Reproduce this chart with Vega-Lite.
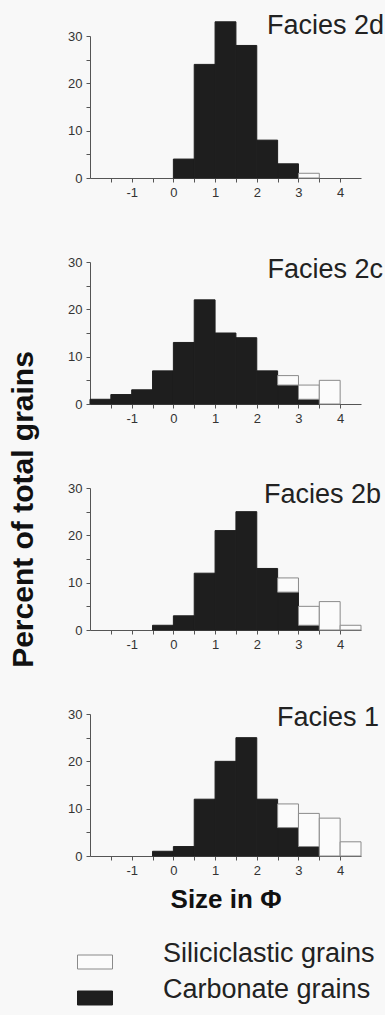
{
  "$schema": "https://vega.github.io/schema/vega-lite/v6.json",
  "background": "#f8f8f8",
  "padding": {"left": 8, "top": 12, "right": 2, "bottom": 8},
  "bounds": "flush",
  "spacing": 84,
  "config": {
    "font": "Liberation Sans",
    "view": {"stroke": null},
    "axis": {"grid": false, "domainColor": "#555", "tickColor": "#555", "labelColor": "#333", "labelFontSize": 13, "labelFont": "Liberation Sans", "tickSize": 4, "labelPadding": 4},
    "legend": {"orient": "none", "legendX": -13, "legendY": 908, "symbolType": "M-1,-0.4H1V0.4H-1Z", "symbolSize": 1225, "labelFontSize": 27, "labelFont": "Liberation Sans", "labelOffset": 50, "labelBaseline": "alphabetic", "rowPadding": 5, "padding": 0, "symbolStrokeWidth": 1, "labelColor": "#222", "labelLimit": 400}
  },
  "datasets": {
    "grains": [
      {"facies": "Facies 2d", "bin_start": 0, "bin_end": 0.5, "type": "Carbonate grains", "pct": 4},
      {"facies": "Facies 2d", "bin_start": 0.5, "bin_end": 1, "type": "Carbonate grains", "pct": 24},
      {"facies": "Facies 2d", "bin_start": 1, "bin_end": 1.5, "type": "Carbonate grains", "pct": 33},
      {"facies": "Facies 2d", "bin_start": 1.5, "bin_end": 2, "type": "Carbonate grains", "pct": 28},
      {"facies": "Facies 2d", "bin_start": 2, "bin_end": 2.5, "type": "Carbonate grains", "pct": 8},
      {"facies": "Facies 2d", "bin_start": 2.5, "bin_end": 3, "type": "Carbonate grains", "pct": 3},
      {"facies": "Facies 2d", "bin_start": 3, "bin_end": 3.5, "type": "Siliciclastic grains", "pct": 1},

      {"facies": "Facies 2c", "bin_start": -2, "bin_end": -1.5, "type": "Carbonate grains", "pct": 1},
      {"facies": "Facies 2c", "bin_start": -1.5, "bin_end": -1, "type": "Carbonate grains", "pct": 2},
      {"facies": "Facies 2c", "bin_start": -1, "bin_end": -0.5, "type": "Carbonate grains", "pct": 3},
      {"facies": "Facies 2c", "bin_start": -0.5, "bin_end": 0, "type": "Carbonate grains", "pct": 7},
      {"facies": "Facies 2c", "bin_start": 0, "bin_end": 0.5, "type": "Carbonate grains", "pct": 13},
      {"facies": "Facies 2c", "bin_start": 0.5, "bin_end": 1, "type": "Carbonate grains", "pct": 22},
      {"facies": "Facies 2c", "bin_start": 1, "bin_end": 1.5, "type": "Carbonate grains", "pct": 15},
      {"facies": "Facies 2c", "bin_start": 1.5, "bin_end": 2, "type": "Carbonate grains", "pct": 14},
      {"facies": "Facies 2c", "bin_start": 2, "bin_end": 2.5, "type": "Carbonate grains", "pct": 7},
      {"facies": "Facies 2c", "bin_start": 2.5, "bin_end": 3, "type": "Carbonate grains", "pct": 4},
      {"facies": "Facies 2c", "bin_start": 2.5, "bin_end": 3, "type": "Siliciclastic grains", "pct": 2},
      {"facies": "Facies 2c", "bin_start": 3, "bin_end": 3.5, "type": "Carbonate grains", "pct": 1},
      {"facies": "Facies 2c", "bin_start": 3, "bin_end": 3.5, "type": "Siliciclastic grains", "pct": 3},
      {"facies": "Facies 2c", "bin_start": 3.5, "bin_end": 4, "type": "Siliciclastic grains", "pct": 5},

      {"facies": "Facies 2b", "bin_start": -0.5, "bin_end": 0, "type": "Carbonate grains", "pct": 1},
      {"facies": "Facies 2b", "bin_start": 0, "bin_end": 0.5, "type": "Carbonate grains", "pct": 3},
      {"facies": "Facies 2b", "bin_start": 0.5, "bin_end": 1, "type": "Carbonate grains", "pct": 12},
      {"facies": "Facies 2b", "bin_start": 1, "bin_end": 1.5, "type": "Carbonate grains", "pct": 21},
      {"facies": "Facies 2b", "bin_start": 1.5, "bin_end": 2, "type": "Carbonate grains", "pct": 25},
      {"facies": "Facies 2b", "bin_start": 2, "bin_end": 2.5, "type": "Carbonate grains", "pct": 13},
      {"facies": "Facies 2b", "bin_start": 2.5, "bin_end": 3, "type": "Carbonate grains", "pct": 8},
      {"facies": "Facies 2b", "bin_start": 2.5, "bin_end": 3, "type": "Siliciclastic grains", "pct": 3},
      {"facies": "Facies 2b", "bin_start": 3, "bin_end": 3.5, "type": "Carbonate grains", "pct": 1},
      {"facies": "Facies 2b", "bin_start": 3, "bin_end": 3.5, "type": "Siliciclastic grains", "pct": 4},
      {"facies": "Facies 2b", "bin_start": 3.5, "bin_end": 4, "type": "Siliciclastic grains", "pct": 6},
      {"facies": "Facies 2b", "bin_start": 4, "bin_end": 4.5, "type": "Siliciclastic grains", "pct": 1},

      {"facies": "Facies 1", "bin_start": -0.5, "bin_end": 0, "type": "Carbonate grains", "pct": 1},
      {"facies": "Facies 1", "bin_start": 0, "bin_end": 0.5, "type": "Carbonate grains", "pct": 2},
      {"facies": "Facies 1", "bin_start": 0.5, "bin_end": 1, "type": "Carbonate grains", "pct": 12},
      {"facies": "Facies 1", "bin_start": 1, "bin_end": 1.5, "type": "Carbonate grains", "pct": 20},
      {"facies": "Facies 1", "bin_start": 1.5, "bin_end": 2, "type": "Carbonate grains", "pct": 25},
      {"facies": "Facies 1", "bin_start": 2, "bin_end": 2.5, "type": "Carbonate grains", "pct": 12},
      {"facies": "Facies 1", "bin_start": 2.5, "bin_end": 3, "type": "Carbonate grains", "pct": 6},
      {"facies": "Facies 1", "bin_start": 2.5, "bin_end": 3, "type": "Siliciclastic grains", "pct": 5},
      {"facies": "Facies 1", "bin_start": 3, "bin_end": 3.5, "type": "Carbonate grains", "pct": 2},
      {"facies": "Facies 1", "bin_start": 3, "bin_end": 3.5, "type": "Siliciclastic grains", "pct": 7},
      {"facies": "Facies 1", "bin_start": 3.5, "bin_end": 4, "type": "Siliciclastic grains", "pct": 8},
      {"facies": "Facies 1", "bin_start": 4, "bin_end": 4.5, "type": "Siliciclastic grains", "pct": 3}
    ]
  },
  "vconcat": [
    {
      "width": 271, "height": 142,
      "layer": [
        {
          "data": {"name": "grains"},
          "transform": [
            {"filter": "datum.facies === 'Facies 2d'"},
            {"stack": "pct", "groupby": ["bin_start"], "sort": [{"field": "type", "order": "ascending"}], "as": ["y0", "y1"]}
          ],
          "mark": {"type": "bar", "strokeWidth": 1},
          "encoding": {
            "x": {"field": "bin_start", "type": "quantitative", "scale": {"domain": [-2, 4.5], "nice": false, "zero": false},
                  "axis": {"title": null, "values": [-1.5, -1, -0.5, 0, 0.5, 1, 1.5, 2, 2.5, 3, 3.5, 4], "labelExpr": "datum.value % 1 === 0 ? '' + datum.value : ''"}},
            "x2": {"field": "bin_end"},
            "y": {"field": "y0", "type": "quantitative", "scale": {"domain": [0, 30]},
                  "axis": {"title": null, "values": [0, 5, 10, 15, 20, 25, 30], "labelExpr": "datum.value % 10 === 0 ? datum.label : ''"}},
            "y2": {"field": "y1"},
            "fill": {"field": "type", "type": "nominal", "scale": {"domain": ["Siliciclastic grains", "Carbonate grains"], "range": ["#fbfbfb", "#1e1e1e"]}, "legend": {"title": null}},
            "stroke": {"field": "type", "type": "nominal", "scale": {"domain": ["Siliciclastic grains", "Carbonate grains"], "range": ["#8a8a8a", "#1e1e1e"]}, "legend": {"title": null}}
          }
        },
        {
          "data": {"values": [{"facies": "Facies 2d"}]},
          "mark": {"type": "text", "dx": 23, "dy": -2, "align": "right", "baseline": "alphabetic", "fontSize": 27, "font": "Liberation Sans", "color": "#222"},
          "encoding": {
            "x": {"datum": 4.5, "type": "quantitative",
                  "axis": {"title": null, "values": [-1.5, -1, -0.5, 0, 0.5, 1, 1.5, 2, 2.5, 3, 3.5, 4], "labelExpr": "datum.value % 1 === 0 ? '' + datum.value : ''"}},
            "y": {"datum": 30, "type": "quantitative",
                  "axis": {"title": null, "values": [0, 5, 10, 15, 20, 25, 30], "labelExpr": "datum.value % 10 === 0 ? datum.label : ''"}},
            "text": {"field": "facies"}
          }
        }
      ]
    },
    {
      "width": 271, "height": 142,
      "layer": [
        {
          "data": {"name": "grains"},
          "transform": [
            {"filter": "datum.facies === 'Facies 2c'"},
            {"stack": "pct", "groupby": ["bin_start"], "sort": [{"field": "type", "order": "ascending"}], "as": ["y0", "y1"]}
          ],
          "mark": {"type": "bar", "strokeWidth": 1},
          "encoding": {
            "x": {"field": "bin_start", "type": "quantitative", "scale": {"domain": [-2, 4.5], "nice": false, "zero": false},
                  "axis": {"title": null, "values": [-1.5, -1, -0.5, 0, 0.5, 1, 1.5, 2, 2.5, 3, 3.5, 4], "labelExpr": "datum.value % 1 === 0 ? '' + datum.value : ''"}},
            "x2": {"field": "bin_end"},
            "y": {"field": "y0", "type": "quantitative", "scale": {"domain": [0, 30]},
                  "axis": {"title": null, "values": [0, 5, 10, 15, 20, 25, 30], "labelExpr": "datum.value % 10 === 0 ? datum.label : ''"}},
            "y2": {"field": "y1"},
            "fill": {"field": "type", "type": "nominal", "scale": {"domain": ["Siliciclastic grains", "Carbonate grains"], "range": ["#fbfbfb", "#1e1e1e"]}, "legend": {"title": null}},
            "stroke": {"field": "type", "type": "nominal", "scale": {"domain": ["Siliciclastic grains", "Carbonate grains"], "range": ["#8a8a8a", "#1e1e1e"]}, "legend": {"title": null}}
          }
        },
        {
          "data": {"values": [{"facies": "Facies 2c"}]},
          "mark": {"type": "text", "dx": 22, "dy": 16, "align": "right", "baseline": "alphabetic", "fontSize": 27, "font": "Liberation Sans", "color": "#222"},
          "encoding": {
            "x": {"datum": 4.5, "type": "quantitative",
                  "axis": {"title": null, "values": [-1.5, -1, -0.5, 0, 0.5, 1, 1.5, 2, 2.5, 3, 3.5, 4], "labelExpr": "datum.value % 1 === 0 ? '' + datum.value : ''"}},
            "y": {"datum": 30, "type": "quantitative",
                  "axis": {"title": null, "values": [0, 5, 10, 15, 20, 25, 30], "labelExpr": "datum.value % 10 === 0 ? datum.label : ''"}},
            "text": {"field": "facies"}
          }
        }
      ]
    },
    {
      "width": 271, "height": 142,
      "layer": [
        {
          "data": {"name": "grains"},
          "transform": [
            {"filter": "datum.facies === 'Facies 2b'"},
            {"stack": "pct", "groupby": ["bin_start"], "sort": [{"field": "type", "order": "ascending"}], "as": ["y0", "y1"]}
          ],
          "mark": {"type": "bar", "strokeWidth": 1},
          "encoding": {
            "x": {"field": "bin_start", "type": "quantitative", "scale": {"domain": [-2, 4.5], "nice": false, "zero": false},
                  "axis": {"title": null, "values": [-1.5, -1, -0.5, 0, 0.5, 1, 1.5, 2, 2.5, 3, 3.5, 4], "labelExpr": "datum.value % 1 === 0 ? '' + datum.value : ''"}},
            "x2": {"field": "bin_end"},
            "y": {"field": "y0", "type": "quantitative", "scale": {"domain": [0, 30]},
                  "axis": {"title": "Percent of total grains", "titleFontSize": 30, "titleFontWeight": "bold", "titleColor": "#111", "titleY": 21, "titlePadding": 29, "values": [0, 5, 10, 15, 20, 25, 30], "labelExpr": "datum.value % 10 === 0 ? datum.label : ''"}},
            "y2": {"field": "y1"},
            "fill": {"field": "type", "type": "nominal", "scale": {"domain": ["Siliciclastic grains", "Carbonate grains"], "range": ["#fbfbfb", "#1e1e1e"]}, "legend": {"title": null}},
            "stroke": {"field": "type", "type": "nominal", "scale": {"domain": ["Siliciclastic grains", "Carbonate grains"], "range": ["#8a8a8a", "#1e1e1e"]}, "legend": {"title": null}}
          }
        },
        {
          "data": {"values": [{"facies": "Facies 2b"}]},
          "mark": {"type": "text", "dx": 20, "dy": 15, "align": "right", "baseline": "alphabetic", "fontSize": 27, "font": "Liberation Sans", "color": "#222"},
          "encoding": {
            "x": {"datum": 4.5, "type": "quantitative",
                  "axis": {"title": null, "values": [-1.5, -1, -0.5, 0, 0.5, 1, 1.5, 2, 2.5, 3, 3.5, 4], "labelExpr": "datum.value % 1 === 0 ? '' + datum.value : ''"}},
            "y": {"datum": 30, "type": "quantitative",
                  "axis": {"title": "Percent of total grains", "titleFontSize": 30, "titleFontWeight": "bold", "titleColor": "#111", "titleY": 21, "titlePadding": 29, "values": [0, 5, 10, 15, 20, 25, 30], "labelExpr": "datum.value % 10 === 0 ? datum.label : ''"}},
            "text": {"field": "facies"}
          }
        }
      ]
    },
    {
      "width": 271, "height": 142,
      "layer": [
        {
          "data": {"name": "grains"},
          "transform": [
            {"filter": "datum.facies === 'Facies 1'"},
            {"stack": "pct", "groupby": ["bin_start"], "sort": [{"field": "type", "order": "ascending"}], "as": ["y0", "y1"]}
          ],
          "mark": {"type": "bar", "strokeWidth": 1},
          "encoding": {
            "x": {"field": "bin_start", "type": "quantitative", "scale": {"domain": [-2, 4.5], "nice": false, "zero": false},
                  "axis": {"title": "Size in Φ", "titleFontSize": 26, "titleFontWeight": "bold", "titleColor": "#111", "titlePadding": 9, "values": [-1.5, -1, -0.5, 0, 0.5, 1, 1.5, 2, 2.5, 3, 3.5, 4], "labelExpr": "datum.value % 1 === 0 ? '' + datum.value : ''"}},
            "x2": {"field": "bin_end"},
            "y": {"field": "y0", "type": "quantitative", "scale": {"domain": [0, 30]},
                  "axis": {"title": null, "values": [0, 5, 10, 15, 20, 25, 30], "labelExpr": "datum.value % 10 === 0 ? datum.label : ''"}},
            "y2": {"field": "y1"},
            "fill": {"field": "type", "type": "nominal", "scale": {"domain": ["Siliciclastic grains", "Carbonate grains"], "range": ["#fbfbfb", "#1e1e1e"]}, "legend": {"title": null}},
            "stroke": {"field": "type", "type": "nominal", "scale": {"domain": ["Siliciclastic grains", "Carbonate grains"], "range": ["#8a8a8a", "#1e1e1e"]}, "legend": {"title": null}}
          }
        },
        {
          "data": {"values": [{"facies": "Facies 1"}]},
          "mark": {"type": "text", "dx": 18, "dy": 12, "align": "right", "baseline": "alphabetic", "fontSize": 27, "font": "Liberation Sans", "color": "#222"},
          "encoding": {
            "x": {"datum": 4.5, "type": "quantitative",
                  "axis": {"title": "Size in Φ", "titleFontSize": 26, "titleFontWeight": "bold", "titleColor": "#111", "titlePadding": 9, "values": [-1.5, -1, -0.5, 0, 0.5, 1, 1.5, 2, 2.5, 3, 3.5, 4], "labelExpr": "datum.value % 1 === 0 ? '' + datum.value : ''"}},
            "y": {"datum": 30, "type": "quantitative",
                  "axis": {"title": null, "values": [0, 5, 10, 15, 20, 25, 30], "labelExpr": "datum.value % 10 === 0 ? datum.label : ''"}},
            "text": {"field": "facies"}
          }
        }
      ]
    }
  ]
}
